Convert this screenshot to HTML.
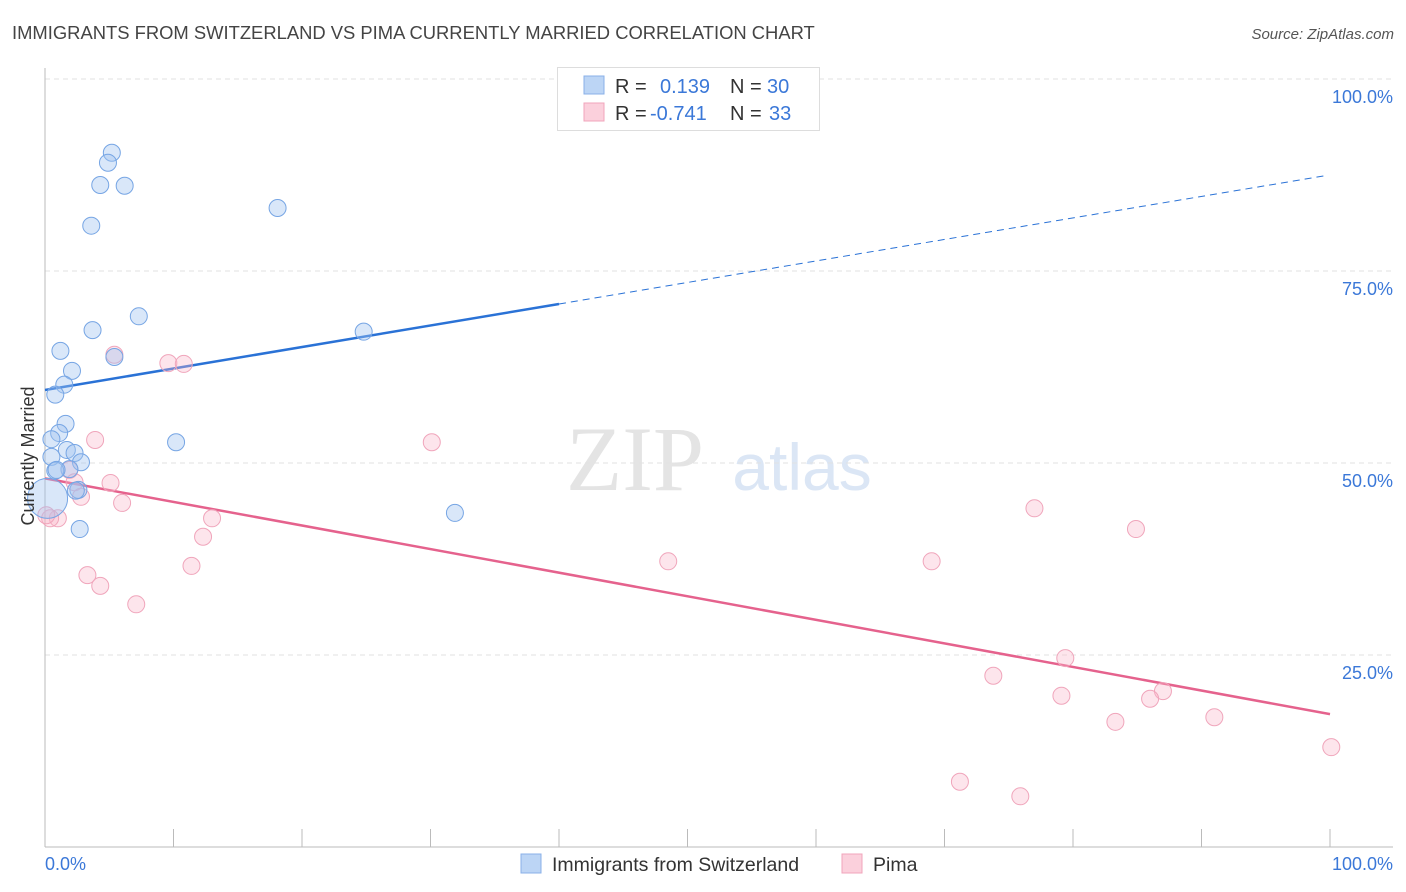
<!DOCTYPE html>
<html><head><meta charset="utf-8"><style>
body{margin:0;background:#fff;font-family:"Liberation Sans",sans-serif;}
svg{display:block}
</style></head><body>
<svg id="chart" width="1406" height="892">
<text x="12" y="39" font-size="18.4" fill="#444">IMMIGRANTS FROM SWITZERLAND VS PIMA CURRENTLY MARRIED CORRELATION CHART</text>
<text x="1394" y="39" font-size="15" fill="#555" font-style="italic" text-anchor="end">Source: ZipAtlas.com</text>
<g>
<text x="635" y="490" font-size="92" fill="#e4e4e4" font-family="Liberation Serif" text-anchor="middle">ZIP</text>
<text x="802" y="490" font-size="66" fill="#dbe6f5" text-anchor="middle">atlas</text>
</g>
<g id="grid"></g>
<g id="axes"></g>
<g id="lines"></g>
<g id="points"></g>
<text transform="translate(34,456) rotate(-90)" font-size="18" fill="#333" text-anchor="middle">Currently Married</text>
<g>
<rect x="557.5" y="67.5" width="262" height="63" fill="#fff" stroke="#ddd"/>
<rect x="584" y="76" width="20" height="18" fill="#bcd5f5" stroke="#8ab0e8"/>
<rect x="584" y="103" width="20" height="18" fill="#fbd0dc" stroke="#f0a5bb"/>
<text x="615" y="93" font-size="20" fill="#333">R =</text>
<text x="660" y="93" font-size="20" fill="#3b78d8">0.139</text>
<text x="730" y="93" font-size="20" fill="#333">N =</text>
<text x="767" y="93" font-size="20" fill="#3b78d8">30</text>
<text x="615" y="120" font-size="20" fill="#333">R =</text>
<text x="650" y="120" font-size="20" fill="#3b78d8">-0.741</text>
<text x="730" y="120" font-size="20" fill="#333">N =</text>
<text x="769" y="120" font-size="20" fill="#3b78d8">33</text>
</g>
<g>
<rect x="521" y="854" width="20" height="19" fill="#bcd5f5" stroke="#8ab0e8"/>
<text x="552" y="871" font-size="19.5" fill="#333">Immigrants from Switzerland</text>
<rect x="842" y="854" width="20" height="19" fill="#fbd0dc" stroke="#f0a5bb"/>
<text x="873" y="871" font-size="19.5" fill="#333">Pima</text>
</g>
</svg>
<script>
const yTicks=[25,50,75,100];
const yTickLabels=["25.0%","50.0%","75.0%","100.0%"];
const xTickLabels=["0.0%","100.0%"];
const blueX=[5.2,4.9,4.3,6.2,3.6,18.1,7.3,3.7,1.2,5.4,2.1,1.5,0.8,1.6,1.1,0.5,10.2,1.7,2.3,0.5,2.8,1.9,0.8,2.6,0.2,2.7,24.8,31.9,0.9,2.4];
const blueY=[90.4,89.1,86.2,86.1,80.9,83.2,69.1,67.3,64.6,63.8,62.0,60.2,58.9,55.1,53.9,53.1,52.7,51.7,51.3,50.8,50.1,49.2,49.0,46.5,45.4,41.4,67.1,43.5,49.1,46.4];
const pinkX=[5.4,9.6,10.8,3.9,30.1,1.9,2.3,5.1,2.8,6.0,1.0,0.4,13.0,12.3,11.4,3.3,4.3,7.1,48.5,69.0,77.0,84.9,73.8,79.4,79.1,87.0,86.0,83.3,91.0,100.1,71.2,75.9,0.1];
const pinkY=[64.1,63.0,62.9,53.0,52.7,49.1,47.5,47.4,45.6,44.8,42.8,42.8,42.8,40.4,36.6,35.4,34.0,31.6,37.2,37.2,44.1,41.4,22.3,24.6,19.7,20.3,19.3,16.3,16.9,13.0,8.5,6.6,43.2];
const blueTrend=[59.5,87.4]; // at x=0 and x=99.6
const pinkTrend=[48.0,17.3]; // at x=0 and x=100
const NS="http://www.w3.org/2000/svg";
const X=v=>45+v*12.85, Y=v=>847-v*7.68;
function mk(tag,attrs,parent){const e=document.createElementNS(NS,tag);for(const k in attrs)e.setAttribute(k,attrs[k]);document.getElementById(parent).appendChild(e);return e;}
yTicks.forEach((t,i)=>{
 const g=mk('line',{x1:45,x2:1393,y1:Y(t),y2:Y(t),stroke:'#e2e2e2','stroke-dasharray':'5,4'},'grid');
 
 
 const l=mk('text',{x:1393,y:Y(t)+24,'font-size':18,fill:'#3b78d8','text-anchor':'end'},'grid');
 l.textContent=yTickLabels[i];
 
 
});
let a=mk('line',{x1:45,x2:45,y1:68,y2:847,stroke:'#bbb'},'axes');


a=mk('line',{x1:45,x2:1393,y1:847,y2:847,stroke:'#bbb'},'axes');


for(let i=1;i<=10;i++){const t=mk('line',{x1:X(i*10),x2:X(i*10),y1:829,y2:847,stroke:'#bbb'},'axes');
 
 }
[[0,'start',45],[100,'end',1393]].forEach((p,i)=>{const t=mk('text',{x:p[2],y:870,'font-size':18,fill:'#3b78d8','text-anchor':p[1]},'axes');t.textContent=xTickLabels[i];
 
 });
function pts(xs,ys,fill,stroke,name){xs.forEach((x,i)=>{const big=(name==='blue-point'&&i===24);const c=mk('circle',{cx:X(x),cy:Y(ys[i]),r:big?20:8.5,fill:fill,stroke:stroke,'stroke-width':1},'points');
 
 });}
pts(pinkX,pinkY,'rgba(248,180,200,0.35)','#f0a5bb','pink-point');
pts(blueX,blueY,'rgba(160,196,240,0.4)','#76a5e4','blue-point');
const bx=40;const by=blueTrend[0]+(blueTrend[1]-blueTrend[0])*bx/99.6;
let ln=mk('line',{x1:X(0),y1:Y(blueTrend[0]),x2:X(bx),y2:Y(by),stroke:'#2a72d6','stroke-width':2.5},'lines');


ln=mk('line',{x1:X(bx),y1:Y(by),x2:X(99.6),y2:Y(blueTrend[1]),stroke:'#2a72d6','stroke-width':1,'stroke-dasharray':'7,5'},'lines');


ln=mk('line',{x1:X(0),y1:Y(pinkTrend[0]),x2:X(100),y2:Y(pinkTrend[1]),stroke:'#e5628d','stroke-width':2.5},'lines');


</script>
</body></html>
